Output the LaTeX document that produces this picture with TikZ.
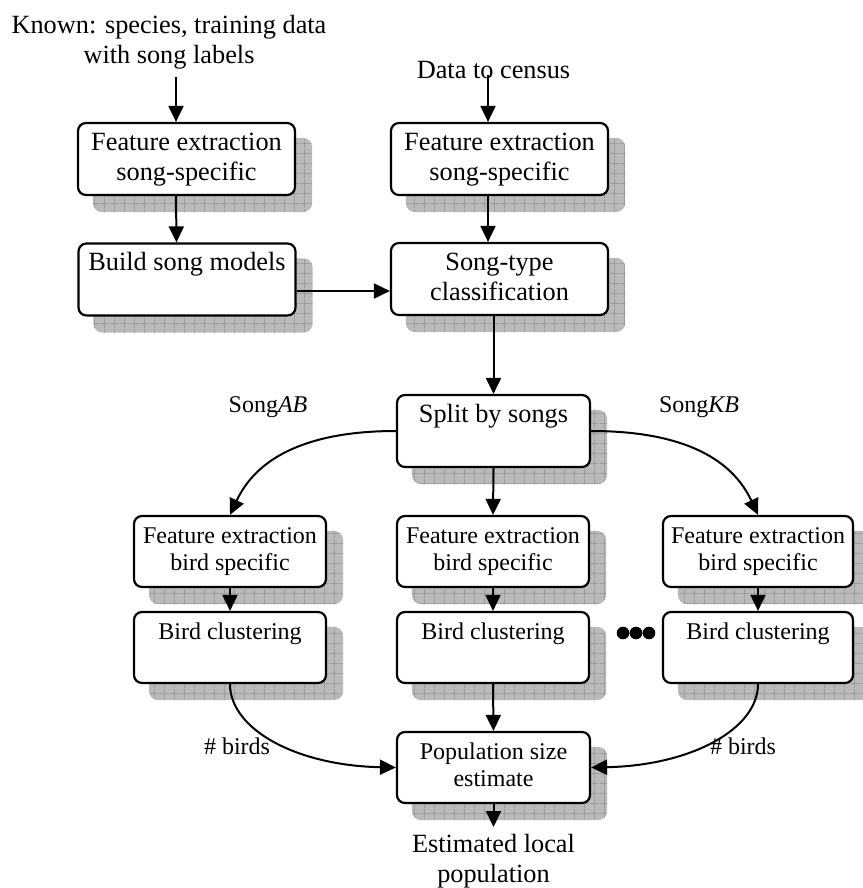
\documentclass[tikz,border=0pt]{standalone}
\usepackage{fontspec}
\setmainfont{Liberation Serif}
\usetikzlibrary{arrows.meta,patterns.meta,calc,backgrounds}

\definecolor{shadowfill}{gray}{0.73}
\definecolor{shadowline}{gray}{0.56}

% square grid laid over the drop shadows
\tikzdeclarepattern{
  name=shadowgrid,
  type=uncolored,
  bottom left={(0pt,0pt)},
  top right={(10pt,10pt)},
  tile size={(10pt,10pt)},
  code={
    \draw[line width=0.6pt] (0pt,5pt) -- (10pt,5pt) (5pt,0pt) -- (5pt,10pt);
  }
}

\begin{document}
\begin{tikzpicture}[x=1pt,y=-1pt,
  every node/.style={font=\fontsize{26.3}{30}\selectfont},
  small/.style={font=\fontsize{24}{27.5}\selectfont},
  box/.style={draw, line width=2.2pt, rounded corners=8pt, fill=white,
    align=center, inner sep=0pt, minimum height=72pt},
  widebox/.style={box, minimum width=217pt},
  narrowbox/.style={box, minimum width=193pt},
  shadowbase/.style={fill=shadowfill, rounded corners=9pt},
  shadowgrid/.style={pattern=shadowgrid, pattern color=shadowline, rounded corners=9pt},
  arr/.style={line width=2pt, -{Triangle[length=16pt,width=15pt]}},
  lbl/.style={small, inner sep=0pt},
  plain/.style={align=center, inner sep=0pt}
]
\useasboundingbox (0,0) rectangle (862,888);

% inputs
\node[plain, anchor=north] (known) at (169,15) {Known: species, training data\\with song labels};
\node[anchor=base, inner sep=0pt] (census) at (493.5,79) {Data to census};

% song-level stage
\node[widebox] (A) at (186.5,159) {\strut Feature extraction\\song-specific\strut};
\node[widebox] (B) at (187,279.5) {\strut Build song models\\\strut};
\node[widebox] (C) at (499.5,159) {\strut Feature extraction\\song-specific\strut};
\node[widebox] (D) at (499.5,279) {\strut Song-type\\classification\strut};
\node[narrowbox] (E) at (493.5,431) {\strut Split by songs\\\strut};

% bird-level stage, one column per song
\node[narrowbox, small, minimum width=192pt, minimum height=71pt] (F1) at (230,551.5) {\strut Feature extraction\\bird specific\strut};
\node[narrowbox, small, minimum width=192pt, minimum height=71pt] (F2) at (493,551.5) {\strut Feature extraction\\bird specific\strut};
\node[narrowbox, small, minimum width=190pt, minimum height=71pt] (F3) at (758,551.5) {\strut Feature extraction\\bird specific\strut};
\node[narrowbox, small, minimum width=192pt, minimum height=71pt] (G1) at (230,647.5) {\strut Bird clustering\\\strut};
\node[narrowbox, small, minimum width=192pt, minimum height=71pt] (G2) at (493,647.5) {\strut Bird clustering\\\strut};
\node[narrowbox, small, minimum width=190pt, minimum height=71pt] (G3) at (758,647.5) {\strut Bird clustering\\\strut};

% estimate
\node[narrowbox, small, minimum height=71pt] (P) at (493.5,767.5) {\strut Population size\\estimate\strut};
\node[plain, anchor=north, inner ysep=7pt] (est) at (493.5,827) {Estimated local\\population};

% drop shadows behind every box
\begin{scope}[on background layer]
  \foreach \n in {A,B,C,D,E,F1,F2,F3,G1,G2,G3,P} {
    \fill[shadowbase] ([shift={(16,16)}]\n.south west) rectangle ([shift={(16,16)}]\n.north east);
    \fill[shadowgrid] ([shift={(16,16)}]\n.south west) rectangle ([shift={(16,16)}]\n.north east);
  }
\end{scope}

% edge labels
\node[lbl] (lAB) at (268,407) {Song\textit{AB}};
\node[lbl] (lKB) at (699,407) {Song\textit{KB}};
\node[lbl] (lb1) at (237,746) {\# birds};
\node[lbl] (lb3) at (743,746) {\# birds};

% ellipsis between the columns
\fill (623,633) circle[radius=6.3] (636,633) circle[radius=6.3] (649,633) circle[radius=6.3];

% connectors
\coordinate (aIn) at ([xshift=-10.5pt]A.north);
\coordinate (cIn) at ([xshift=-11.5pt]C.north);
\draw[arr] ($(known.south -| aIn)+(0,8)$) -- (aIn);
\draw[arr] ([xshift=-10.5pt]A.south) -- ([xshift=-10.5pt]B.north);
\draw[arr] ([xshift=-5.5pt,yshift=4pt]census.base) -- (cIn);
\draw[arr] ([xshift=-11.5pt]C.south) -- ([xshift=-11.5pt]D.north);
\draw[arr] ([yshift=-11.5pt]B.east) -- ([yshift=-11.5pt]B.east -| D.west);
\draw[arr] (E.north |- D.south) -- (E.north);
\draw[arr] (E.south) -- (F2.north);
\draw[arr] (E.west) to[out=180,in=65] (F1.north);
\draw[arr] (E.east) to[out=0,in=115] (F3.north);
\draw[arr] (F1.south) -- (G1.north);
\draw[arr] (F2.south) -- (G2.north);
\draw[arr] (F3.south) -- (G3.north);
\draw[arr] (G1.south) .. controls +(0,45) and +(-100,-2) .. (P.west);
\draw[arr] (G3.south) .. controls +(0,45) and +(100,-2) .. (P.east);
\draw[arr] (G2.south) -- (P.north);
\draw[arr] (P.south) -- (est.north);
\end{tikzpicture}
\end{document}
